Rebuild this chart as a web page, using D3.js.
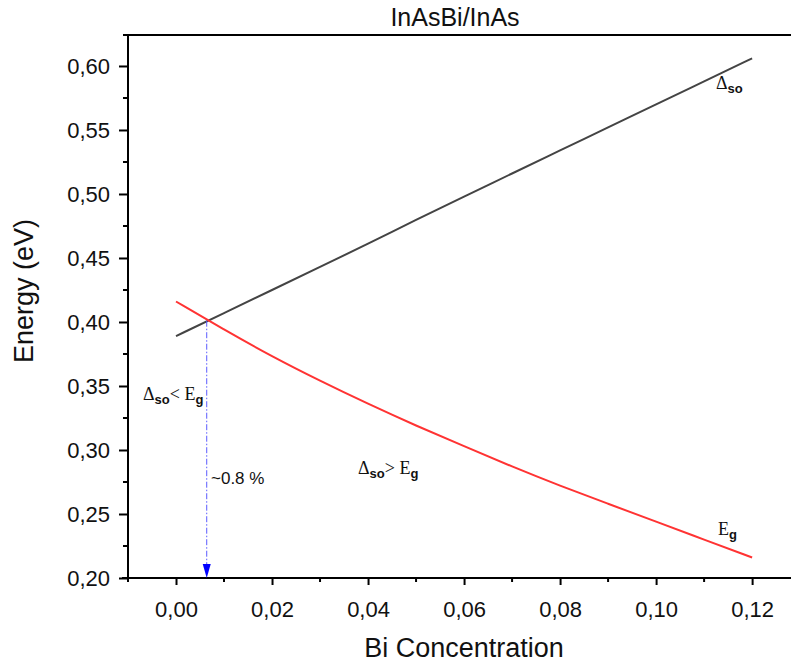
<!DOCTYPE html>
<html>
<head>
<meta charset="utf-8">
<script src="https://cdn.jsdelivr.net/npm/d3@7"></script>
<style>
  html, body { margin: 0; padding: 0; background: #fff; }
  svg { display: block; }
</style>
</head>
<body>
<svg id="chart" width="791" height="666"></svg>
<script>
// ---- data ----
const concentration = [0.00, 0.01, 0.02, 0.03, 0.04, 0.05, 0.06, 0.07, 0.08, 0.09, 0.10, 0.11, 0.12];
const deltaSO = [0.389, 0.407, 0.425, 0.443, 0.461, 0.480, 0.498, 0.516, 0.534, 0.552, 0.570, 0.588, 0.606];
const bandGap = [0.416, 0.394, 0.373, 0.354, 0.336, 0.319, 0.303, 0.287, 0.272, 0.258, 0.244, 0.230, 0.216];
const crossing = { x: 0.0064, y: 0.401 };
const xTickValues = [0.00, 0.02, 0.04, 0.06, 0.08, 0.10, 0.12];
const xTickLabels = ["0,00", "0,02", "0,04", "0,06", "0,08", "0,10", "0,12"];
const xMinorValues = [-0.01, 0.01, 0.03, 0.05, 0.07, 0.09, 0.11];
const yTickValues = [0.20, 0.25, 0.30, 0.35, 0.40, 0.45, 0.50, 0.55, 0.60];
const yTickLabels = ["0,20", "0,25", "0,30", "0,35", "0,40", "0,45", "0,50", "0,55", "0,60"];
const yMinorValues = [0.225, 0.275, 0.325, 0.375, 0.425, 0.475, 0.525, 0.575];
const title = "InAsBi/InAs";
const xTitle = "Bi Concentration";
const yTitle = "Energy (eV)";

// ---- layout ----
const svg = d3.select("#chart");
const mLeft = 128, mRight = 791, mTop = 35, mBottom = 578;
const x = d3.scaleLinear().domain([-0.01, 0.1281]).range([mLeft, mRight]);
const y = d3.scaleLinear().domain([0.20, 0.6242]).range([mBottom, mTop]);
const sans = "Arial, 'Liberation Sans', sans-serif";
const serif = "'Times New Roman', 'Liberation Serif', serif";

// title
svg.append("text").attr("x", 455).attr("y", 26).attr("text-anchor", "middle")
  .attr("font-family", sans).attr("font-size", 25).attr("fill", "#111").text(title);

// top frame line
svg.append("line").attr("x1", mLeft - 5).attr("x2", mRight).attr("y1", mTop).attr("y2", mTop)
  .attr("stroke", "#000").attr("stroke-width", 2);

// x axis
const xAxis = svg.append("g").attr("transform", `translate(0,${mBottom})`)
  .call(d3.axisBottom(x).tickValues(xTickValues).tickSize(7).tickSizeOuter(0)
    .tickFormat((d, i) => xTickLabels[i]));
xAxis.append("g").selectAll("line").data(xMinorValues).join("line")
  .attr("x1", d => x(d)).attr("x2", d => x(d)).attr("y1", 0).attr("y2", 4)
  .attr("stroke", "#000").attr("stroke-width", 2);
xAxis.select(".domain").attr("stroke-width", 2).attr("d", `M${mLeft - 6},0H${mRight}`);
xAxis.selectAll(".tick line").attr("stroke-width", 2);
xAxis.selectAll(".tick text").attr("font-family", sans).attr("font-size", 22)
  .attr("fill", "#111").attr("y", 39).attr("dy", null);

// y axis
const yAxis = svg.append("g").attr("transform", `translate(${mLeft},0)`)
  .call(d3.axisLeft(y).tickValues(yTickValues).tickSize(9).tickSizeOuter(0)
    .tickFormat((d, i) => yTickLabels[i]));
yAxis.append("g").selectAll("line").data(yMinorValues).join("line")
  .attr("y1", d => y(d)).attr("y2", d => y(d)).attr("x1", 0).attr("x2", -5)
  .attr("stroke", "#000").attr("stroke-width", 2);
yAxis.select(".domain").attr("stroke-width", 2).attr("d", `M0,${mBottom + 1}V${mTop - 1}`);
yAxis.selectAll(".tick line").attr("stroke-width", 2);
yAxis.selectAll(".tick text").attr("font-family", sans).attr("font-size", 22)
  .attr("fill", "#111").attr("x", -18);

// axis titles
svg.append("text").attr("x", 464).attr("y", 657).attr("text-anchor", "middle")
  .attr("font-family", sans).attr("font-size", 27).attr("fill", "#111").text(xTitle);
svg.append("text").attr("transform", "translate(33,291) rotate(-90)").attr("text-anchor", "middle")
  .attr("font-family", sans).attr("font-size", 27).attr("fill", "#111").text(yTitle);

// lines
const line = d3.line().x((d, i) => x(concentration[i])).y(d => y(d)).curve(d3.curveBasis);
svg.append("path").datum(deltaSO).attr("d", line).attr("fill", "none")
  .attr("stroke", "#444").attr("stroke-width", 2);
svg.append("path").datum(bandGap).attr("d", line).attr("fill", "none")
  .attr("stroke", "#ff3333").attr("stroke-width", 2);

// vertical dash-dot indicator with arrow
svg.append("line").attr("x1", x(crossing.x)).attr("x2", x(crossing.x))
  .attr("y1", y(crossing.y)).attr("y2", y(0.20) - 12)
  .attr("stroke", "#5a5aff").attr("stroke-width", 1)
  .attr("stroke-dasharray", "6,2,1.5,2");
const ax = x(crossing.x), ay = y(0.20);
svg.append("path").attr("d", `M${ax - 4},${ay - 14}L${ax + 4},${ay - 14}L${ax},${ay}Z`)
  .attr("fill", "#0000ff");

// annotations
function delta(xp, yp, rel, withEg) {
  const t = svg.append("text").attr("x", xp).attr("y", yp).attr("fill", "#111");
  t.append("tspan").attr("font-family", serif).attr("font-size", 18).text("\u0394");
  t.append("tspan").attr("font-family", sans).attr("font-weight", "bold").attr("font-size", 13)
    .attr("dy", 4).text("so");
  if (withEg) {
    t.append("tspan").attr("font-family", serif).attr("font-size", 18).attr("dy", -4).text(rel + " E");
    t.append("tspan").attr("font-family", sans).attr("font-weight", "bold").attr("font-size", 13)
      .attr("dy", 4).text("g");
  }
}
delta(143, 400, "<", true);
delta(358, 474, ">", true);
delta(716, 89, "", false);
const eg = svg.append("text").attr("x", 718).attr("y", 535).attr("fill", "#111");
eg.append("tspan").attr("font-family", serif).attr("font-size", 18).text("E");
eg.append("tspan").attr("font-family", sans).attr("font-weight", "bold").attr("font-size", 13)
  .attr("dy", 4).text("g");

svg.append("text").attr("x", 211).attr("y", 484).attr("font-family", sans)
  .attr("font-size", 17).attr("fill", "#111").text("~0.8 %");
</script>
</body>
</html>
